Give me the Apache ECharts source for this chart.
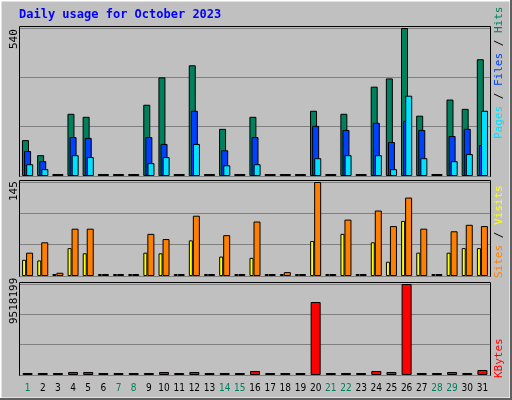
<!DOCTYPE html>
<html><head><meta charset="utf-8">
<script src="https://cdn.jsdelivr.net/npm/echarts@6/dist/echarts.min.js"></script>
<style>html,body{margin:0;padding:0;background:#c0c0c0}#c{width:512px;height:400px}</style>
</head><body><div id="c"></div>
<script>
const days = ['1','2','3','4','5','6','7','8','9','10','11','12','13','14','15','16','17','18','19','20','21','22','23','24','25','26','27','28','29','30','31'];
const weekend = ['1','7','8','14','15','21','22','28','29'];
const hits  = [131,76,7,227,216,0,0,0,260,360,0,404,0,172,0,216,0,5,0,238,0,227,0,326,356,540,220,5,279,245,426];
const files = [91,54,3,142,139,0,0,0,142,117,0,238,0,94,0,142,0,3,0,183,0,168,0,194,124,201,168,3,146,172,113];
const pages = [43,25,2,76,69,0,0,0,47,69,0,117,0,39,0,43,0,2,0,65,0,76,0,76,25,293,65,2,54,80,238];
const sites = [25,24,3,43,35,0,3,0,36,35,3,55,3,30,3,28,0,3,0,54,0,65,3,52,22,85,36,3,36,43,43];
const visits= [36,52,5,73,73,0,3,0,65,57,3,93,3,63,3,84,0,6,0,145,0,87,3,101,77,121,73,3,69,79,77];
const kbytes= [210000,210000,100000,314000,314000,100000,100000,100000,210000,314000,100000,314000,100000,210000,100000,420000,100000,100000,100000,7635000,100000,210000,100000,420000,314000,9518199,210000,100000,314000,210000,523000];
const maxHits = 540, maxVisits = 145, maxKB = 9518199;

const C = {hits:'#00805c',files:'#0040ff',pages:'#00e0ff',sites:'#ffff00',visits:'#ff8000',kb:'#ff0000'};
const font = 'DejaVu Sans Mono';
const grids = [
  {left:20,right:22,top:28,height:148},
  {left:20,right:22,top:182,height:94},
  {left:20,right:22,top:284,height:91}
];
const maxes=[maxHits,maxVisits,maxKB];
const xAxis = grids.map((g,i)=>({type:'category',gridIndex:i,data:days,
  axisLine:{show:false},axisTick:{show:false},
  axisLabel:{show:i===2,interval:0,fontFamily:'DejaVu Sans Condensed',fontSize:10,margin:8,
    color:(v)=>weekend.includes(v)?'#00805c':'#000'}}));
const yAxis = grids.map((g,i)=>({type:'value',gridIndex:i,min:0,max:maxes[i],interval:maxes[i]/3,
  axisLabel:{show:false},axisLine:{show:false},axisTick:{show:false},
  splitLine:{show:true,lineStyle:{color:'#808080',width:1}}}));
function bar(name,data,color,gi,w,gap){return {name,type:'bar',data,xAxisIndex:gi,yAxisIndex:gi,barWidth:w,barGap:gap,barMinHeight:2,
  itemStyle:{color,borderColor:'#000',borderWidth:1},animation:false,silent:true};}
const series=[
  bar('Hits',hits,C.hits,0,7,'-70%'),
  bar('Files',files,C.files,0,7,'-70%'),
  bar('Pages',pages,C.pages,0,7,'-70%'),
  bar('Sites',sites,C.sites,1,4,'0%'),
  bar('Visits',visits,C.visits,1,7,'0%'),
  bar('KBytes',kbytes,C.kb,2,10,'0%')
];
function up(x,y,rich,text){return {type:'text',x,y,rotation:Math.PI/2,style:{text,fontFamily:font,fontSize:11,align:'left',verticalAlign:'top',rich,fill:'#000'}};}
const rs={fontFamily:font,fontSize:11};
const graphic=[
  {type:'rect',shape:{x:0.5,y:0.5,width:510,height:398},style:{fill:'none',stroke:'#fff',lineWidth:2}},
  {type:'polyline',shape:{points:[[511,0],[511,399],[0,399]]},style:{stroke:'#606060',lineWidth:2,fill:'none'}},
  ...grids.map(g=>({type:'rect',shape:{x:g.left-0.5,y:g.top-1.5,width:512-g.left-g.right+1,height:g.height+2},style:{fill:'none',stroke:'#000',lineWidth:1}})),
  {type:'text',x:19,y:9,style:{text:'Daily usage for October 2023',fontFamily:font,fontSize:12,fontWeight:'bold',fill:'#0000ff'}},
  up(9,49,{},'540'),
  up(9,201,{},'145'),
  up(9,324,{},'9518199'),
  up(494,139,{p:{...rs,fill:'#00e0ff'},f:{...rs,fill:'#0040ff'},h:{...rs,fill:'#00805c'},s:{...rs,fill:'#000'}},'{p|Pages}{s| / }{f|Files}{s| / }{h|Hits}'),
  up(494,278,{a:{...rs,fill:'#ff8000'},b:{...rs,fill:'#ffff00'},s:{...rs,fill:'#000'}},'{a|Sites}{s| / }{b|Visits}'),
  up(494,378,{k:{...rs,fill:'#ff0000'}},'{k|KBytes}')
];
const chart=echarts.init(document.getElementById('c'),null,{renderer:'canvas'});
chart.setOption({backgroundColor:'#c0c0c0',animation:false,grid:grids,xAxis,yAxis,series,graphic});
</script></body></html>
